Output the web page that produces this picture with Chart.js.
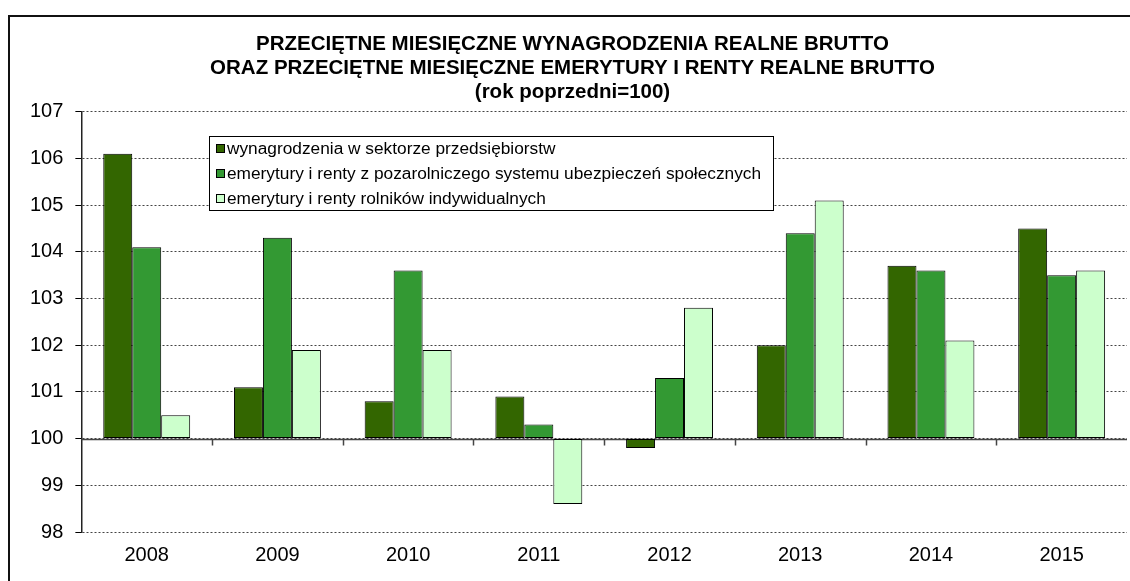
<!DOCTYPE html>
<html lang="pl">
<head>
  <meta charset="UTF-8">
  <title>Wynagrodzenia oraz emerytury i renty realne brutto</title>
  <style>
    body { margin: 0; background: #fff; width: 1130px; height: 581px; overflow: hidden; position: relative; }
    #frame {
      position: absolute; left: 8px; top: 15px; width: 1200px; height: 700px;
      border-left: 2px solid #111; border-top: 2px solid #111;
    }
    #chart { position: absolute; left: 0; top: 0; }
  </style>
</head>
<body>
<div id="frame"></div>
<canvas id="chart" width="1130" height="581"></canvas>

<script src="https://cdn.jsdelivr.net/npm/chart.js"></script>
<script>
// dane
const lata = ['2008', '2009', '2010', '2011', '2012', '2013', '2014', '2015'];
const wynagrodzenia = [106.1, 101.1, 100.8, 100.9, 99.8, 102.0, 103.7, 104.5];
const emeryturyPozarolnicze = [104.1, 104.3, 103.6, 100.3, 101.3, 104.4, 103.6, 103.5];
const emeryturyRolnikow = [100.5, 101.9, 101.9, 98.6, 102.8, 105.1, 102.1, 103.6];
const nazwySerii = [
  'wynagrodzenia w sektorze przedsiębiorstw',
  'emerytury i renty z pozarolniczego systemu ubezpieczeń społecznych',
  'emerytury i renty rolników indywidualnych'
];
const tytul = [
  'PRZECIĘTNE MIESIĘCZNE WYNAGRODZENIA REALNE BRUTTO',
  'ORAZ PRZECIĘTNE MIESIĘCZNE EMERYTURY I RENTY REALNE BRUTTO',
  '(rok poprzedni=100)'
];
const kolory = ['#336600', '#339933', '#ccffcc'];
const podstawa = 100;

const FONT = '"Liberation Sans", Arial, sans-serif';

// linia 100 i znaczniki kategorii
const liniaBazowa = {
  id: 'liniaBazowa',
  beforeDatasetsDraw(chart) {
    const { ctx, chartArea, scales } = chart;
    const y = Math.round(scales.y.getPixelForValue(podstawa)) + 0.5;
    ctx.save();
    ctx.strokeStyle = '#444';
    ctx.lineWidth = 1.5;
    ctx.beginPath();
    ctx.moveTo(chartArea.left, y);
    ctx.lineTo(chartArea.right, y);
    const step = (chartArea.right - chartArea.left) / lata.length;
    for (let i = 1; i < lata.length; i++) {
      const x = Math.round(chartArea.left + step * i) + 0.5;
      ctx.moveTo(x, y);
      ctx.lineTo(x, y + 6);
    }
    ctx.stroke();
    ctx.restore();
  }
};

// legenda w ramce wewnątrz wykresu
const legendaWRamce = {
  id: 'legendaWRamce',
  afterDraw(chart) {
    const { ctx, chartArea } = chart;
    const x0 = Math.round(chartArea.left + 128);
    const y0 = Math.round(chartArea.top + 24);
    const w = 564, h = 74;
    ctx.save();
    ctx.fillStyle = '#fff';
    ctx.fillRect(x0, y0, w, h);
    ctx.strokeStyle = '#000';
    ctx.lineWidth = 1;
    ctx.strokeRect(x0 + 0.5, y0 + 0.5, w, h);
    ctx.font = '17.3px ' + FONT;
    ctx.textBaseline = 'middle';
    nazwySerii.forEach((nazwa, i) => {
      const yy = Math.round(y0 + 11.5 + i * 25);
      ctx.fillStyle = kolory[i];
      ctx.fillRect(x0 + 7, yy - 4, 9, 9);
      ctx.strokeStyle = '#000';
      ctx.strokeRect(x0 + 7.5, yy - 3.5, 8, 8);
      ctx.fillStyle = '#000';
      ctx.fillText(nazwa, x0 + 18, yy + 1);
    });
    ctx.restore();
  }
};

const serie = [wynagrodzenia, emeryturyPozarolnicze, emeryturyRolnikow];

new Chart(document.getElementById('chart'), {
  type: 'bar',
  data: {
    labels: lata,
    datasets: serie.map((dane, i) => ({
      label: nazwySerii[i],
      data: dane,
      base: podstawa,
      backgroundColor: kolory[i],
      borderColor: '#000',
      borderWidth: 1,
      borderSkipped: false,
      categoryPercentage: 0.665,
      barPercentage: 1
    }))
  },
  options: {
    responsive: false,
    animation: false,
    devicePixelRatio: 1,
    layout: { padding: { top: 20, right: 3, left: 18, bottom: 11 } },
    plugins: {
      legend: { display: false },
      tooltip: { enabled: false },
      title: {
        display: true,
        text: tytul,
        color: '#000',
        font: { family: FONT, size: 20.5, weight: 'bold', lineHeight: 1.15 },
        padding: { top: 13, bottom: 8 }
      }
    },
    scales: {
      x: {
        grid: { display: false },
        border: { display: false },
        ticks: { color: '#000', font: { family: FONT, size: 20 }, padding: 3 }
      },
      y: {
        min: 98,
        max: 107,
        ticks: { stepSize: 1, color: '#000', font: { family: FONT, size: 20 }, padding: 12 },
        grid: { color: '#444', lineWidth: 1, tickColor: '#000', tickLength: 6, tickBorderDash: [] },
        border: { display: true, color: '#222', width: 1.5, dash: [2, 2] }
      }
    }
  },
  plugins: [liniaBazowa, legendaWRamce]
});
</script>
</body>
</html>
